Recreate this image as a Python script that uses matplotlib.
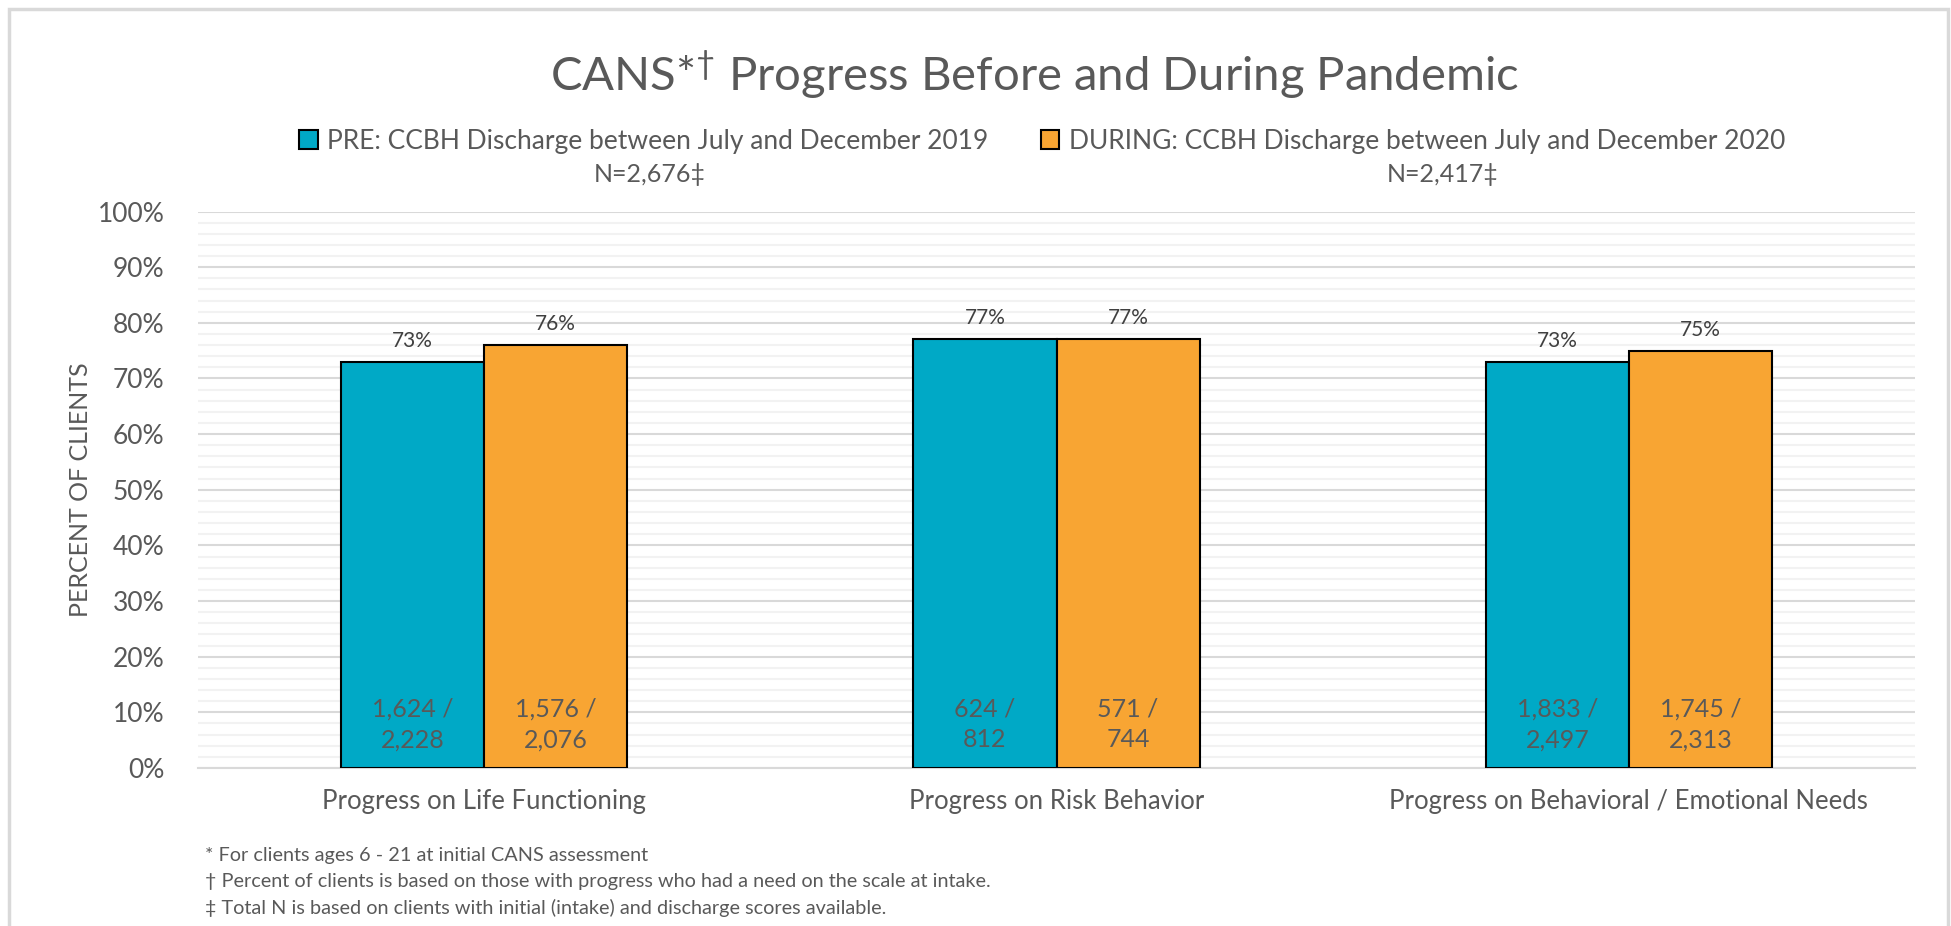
import matplotlib
matplotlib.use('Agg')
import matplotlib.pyplot as plt
import matplotlib.patches as mpatches
from matplotlib.ticker import MultipleLocator, PercentFormatter
import numpy as np

plt.rcParams['font.family'] = ['Lato', 'DejaVu Sans']
plt.rcParams['mathtext.fontset'] = 'custom'
plt.rcParams['mathtext.rm'] = 'Lato'
plt.rcParams['mathtext.it'] = 'Lato'
plt.rcParams['mathtext.default'] = 'regular'

categories = ['Progress on Life Functioning', 'Progress on Risk Behavior',
              'Progress on Behavioral / Emotional Needs']
series_names = ['PRE: CCBH Discharge between July and December 2019',
                'DURING: CCBH Discharge between July and December 2020']
series_n = ['N=2,676\u2021', 'N=2,417\u2021']
pre_pct = [73, 77, 73]
during_pct = [76, 77, 75]
pre_counts = ['1,624 /\n2,228', '624 /\n812', '1,833 /\n2,497']
during_counts = ['1,576 /\n2,076', '571 /\n744', '1,745 /\n2,313']
footnotes = ['* For clients ages 6 - 21 at initial CANS assessment',
             '\u2020 Percent of clients is based on those with progress who had a need on the scale at intake.',
             '\u2021 Total N is based on clients with initial (intake) and discharge scores available.']

BLUE = '#00A9C6'
ORANGE = '#F8A533'
GRAY = '#595959'

W, H = 1951, 926
fig = plt.figure(figsize=(W / 100, H / 100), dpi=100)
ax = fig.add_axes([198 / W, 1 - 768 / H, (1915 - 198) / W, (768 - 211.5) / H])

x = np.arange(len(categories))
bw = 0.25
b1 = ax.bar(x - bw / 2, pre_pct, bw, color=BLUE, edgecolor='black', linewidth=1.5, zorder=3)
b2 = ax.bar(x + bw / 2, during_pct, bw, color=ORANGE, edgecolor='black', linewidth=1.5, zorder=3)

# value labels on top and counts inside
for bars, pcts, counts in [(b1, pre_pct, pre_counts), (b2, during_pct, during_counts)]:
    for rect, p, c in zip(bars, pcts, counts):
        cx = rect.get_x() + rect.get_width() / 2
        ax.annotate(f'{p}%', (cx, p), xytext=(0, 8), textcoords='offset points',
                    ha='center', va='bottom', fontsize=15, color='#404040')
        ax.text(cx, 7.8, c, ha='center', va='center', fontsize=18, color=GRAY,
                linespacing=1.4, zorder=4)

ax.set_xlim(-0.5, len(categories) - 0.5)
ax.set_ylim(0, 100)
ax.yaxis.set_major_locator(MultipleLocator(10))
ax.yaxis.set_minor_locator(MultipleLocator(2))
ax.yaxis.set_major_formatter(PercentFormatter(decimals=0))
ax.grid(axis='y', which='major', color='#d9d9d9', linewidth=1.5, zorder=0)
ax.grid(axis='y', which='minor', color='#f2f2f2', linewidth=1.5, zorder=0)
ax.set_axisbelow(True)
for s in ['top', 'right', 'left']:
    ax.spines[s].set_visible(False)
ax.spines['bottom'].set_color('#d9d9d9')
ax.spines['bottom'].set_linewidth(1.5)
ax.tick_params(axis='both', which='both', length=0, colors=GRAY)
ax.tick_params(axis='y', labelsize=19, pad=24)
ax.tick_params(axis='x', labelsize=18.5, pad=15)
ax.set_xticks(x)
ax.set_xticklabels(categories)
fig.text(81 / W, 1 - 490 / H, 'PERCENT OF CLIENTS', rotation=90, ha='center', va='center',
         fontsize=18, color=GRAY)

fig.text(1034 / W, 1 - 75 / H, 'CANS*$^{\u2020}$ Progress Before and During Pandemic',
         ha='center', va='center', fontsize=34, color=GRAY)

handles = [mpatches.Patch(facecolor=BLUE, edgecolor='black', linewidth=1.5),
           mpatches.Patch(facecolor=ORANGE, edgecolor='black', linewidth=1.5)]
fig.legend(handles, series_names, loc='center', bbox_to_anchor=(1042 / W, 1 - 141 / H),
           ncol=2, frameon=False, fontsize=19, labelcolor=GRAY, handlelength=0.7,
           handleheight=0.7, handletextpad=0.35, columnspacing=2.0)
fig.text(650 / W, 1 - 175 / H, series_n[0], ha='center', va='center', fontsize=18, color=GRAY)
fig.text(1443 / W, 1 - 175 / H, series_n[1], ha='center', va='center', fontsize=18, color=GRAY)

for i, t in enumerate(footnotes):
    fig.text(205 / W, 1 - (856 + 26 * i) / H, t, ha='left', va='center', fontsize=14.3, color=GRAY)

# outer chart border
fig.patches.append(mpatches.Rectangle((9 / W, -0.05), (1948 - 9) / W, 1.05 - 9 / H,
                                      transform=fig.transFigure, fill=False,
                                      edgecolor='#d9d9d9', linewidth=2.5))

fig.savefig('out.png', dpi=100)
